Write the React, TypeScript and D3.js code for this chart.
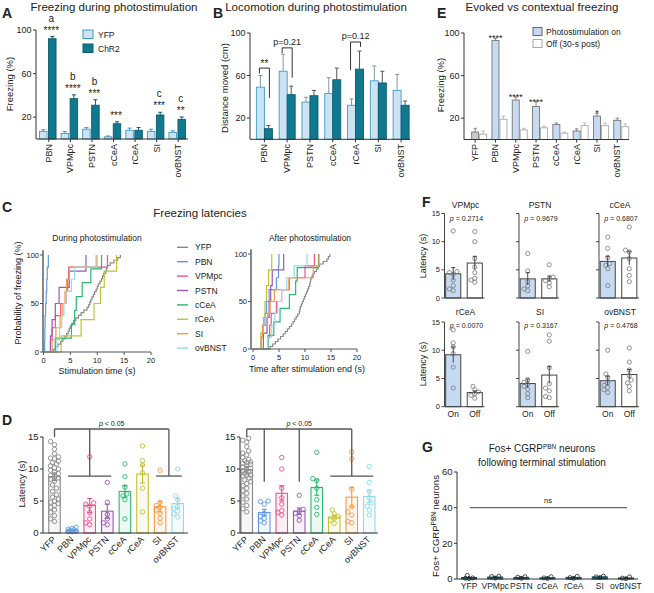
import React from 'react';
import * as d3 from 'd3';

const FONT = '"Liberation Sans", Arial, Helvetica, sans-serif';

// ---------- Panel A: freezing during photostimulation ----------
const regionsAB = ['PBN', 'VPMpc', 'PSTN', 'cCeA', 'rCeA', 'SI', 'ovBNST'];
const freezeYFP = [7, 5, 9, 2, 8, 7, 6];
const freezeYFPErr = [1.5, 1.8, 1.5, 0.8, 2, 2, 1.5];
const freezeChR2 = [92, 37, 31, 14, 8, 22, 18];
const freezeChR2Err = [2, 3.5, 5, 1.8, 2.5, 2.5, 2.2];
const freezeLetters = ['a', 'b', 'b', '', '', 'c', 'c'];
const freezeStars = ['****', '****', '***', '***', '', '***', '**'];
const pctTicks = [20, 60, 100];

// ---------- Panel B: locomotion ----------
const locoYFP = [49, 64, 35, 43, 32, 55, 46];
const locoYFPErr = [11, 16, 4.5, 15, 6, 14, 15];
const locoChR2 = [10, 42, 41, 56, 66, 53, 32];
const locoChR2Err = [3, 8, 5, 11, 17, 11, 4];
const locoBracketGroup = [0, 1, 4];
const locoBracketLabel = ['**', 'p=0.21', 'p=0.12'];
const locoBracketLevel = [67, 86, 91.5];
const locoBracketLeft = [62, 81, 65];
const locoBracketRight = [39, 58, 87];

// ---------- Panel E: evoked vs contextual ----------
const regions8 = ['YFP', 'PBN', 'VPMpc', 'PSTN', 'cCeA', 'rCeA', 'SI', 'ovBNST'];
const evokedOn = [7, 93, 37, 31, 14, 8, 22, 18];
const evokedOnErr = [3.5, 2, 3, 4.5, 1.5, 2, 2.5, 2];
const evokedOff = [5, 19, 9, 11, 6, 13, 13, 12];
const evokedOffErr = [3, 3, 1.5, 1.5, 1, 2.5, 2.5, 2.5];
const evokedStars = ['', '****', '****', '****', '', '', '*', ''];

// ---------- Latencies (panels C, D, F) ----------
const regionColors = ['#8a8a8a', '#5f9be0', '#f2508b', '#9b59b6', '#2db872', '#c3c236', '#f89a3c', '#92dbe9'];

const durYFP = [14.3, 13.8, 13.1, 12.4, 11.9, 11.7, 11.6, 11.2, 11.0, 10.8, 10.5, 10.2, 10.0, 9.8, 9.5, 9.3, 9.0, 8.8, 8.6, 8.4, 8.1, 7.5, 7.0, 6.5, 6.0, 5.6, 5.3, 5.0, 4.8, 4.6, 4.3, 4.0, 3.6, 3.2, 2.7, 2.2, 1.8];
const durPBN = [0.9, 0.7, 0.6, 0.5, 0.4, 0.3, 0.25, 0.2];
const durVPMpc = [11.9, 4.7, 4.5, 4.2, 3.2, 2.2, 1.6, 1.3];
const durPSTN = [7.9, 4.8, 2.9, 2.2, 1.6, 1.3];
const durCCeA = [10.8, 8.8, 7.2, 6.1, 5.8, 5.2, 2.2];
const durRCeA = [13.6, 11.3, 10.6, 9.4, 7.0, 3.3];
const durSI = [9.8, 4.8, 4.3, 4.0, 3.6, 3.1, 2.3, 1.6];
const durOvBNST = [10.0, 5.8, 5.2, 4.2, 3.8, 3.4, 3.0, 2.5];
const durMean = [8.8, 0.4, 4.3, 3.4, 6.5, 9.2, 4.1, 4.6];
const durSem = [0.6, 0.1, 1.1, 1.1, 0.9, 1.4, 0.8, 0.8];

const aftYFP = [14.8, 14.5, 14.2, 13.5, 12.8, 12.5, 12.2, 11.8, 11.5, 11.3, 11.1, 11.0, 10.9, 10.7, 10.5, 10.3, 10.1, 9.9, 9.7, 9.5, 9.3, 9.1, 9.0, 8.9, 8.6, 8.3, 8.0, 7.7, 7.4, 7.0, 6.6, 6.2, 5.8, 5.3, 4.8, 4.3, 3.8, 3.3];
const aftPBN = [5.0, 4.9, 4.5, 3.1, 2.6, 2.3, 1.9, 1.6];
const aftVPMpc = [11.8, 10.0, 7.0, 5.5, 4.5, 3.5, 3.2, 2.8];
const aftPSTN = [5.9, 3.7, 3.4, 3.1, 2.7, 2.0];
const aftCCeA = [12.6, 8.5, 8.2, 7.0, 5.2, 4.0, 2.9];
const aftRCeA = [3.6, 3.0, 2.6, 2.3, 2.0, 1.5];
const aftSI = [12.7, 11.6, 6.9, 4.1, 3.3, 2.8, 1.8, 1.6];
const aftOvBNST = [10.4, 7.9, 6.5, 5.5, 4.7, 4.2, 3.6, 2.8];
const aftMean = [9.9, 3.2, 6.2, 3.4, 7.1, 2.5, 5.6, 5.7];
const aftSem = [0.5, 0.5, 1.2, 0.5, 1.2, 0.3, 1.5, 0.9];

const latTicks = [0, 5, 10, 15];
const cdfXTicks = [0, 5, 10, 15, 20];
const cdfYTicks = [0, 50, 100];

// ---------- Panel F ----------
const pValuesF = ['0.2714', '0.9679', '0.6807', '0.0070', '0.3167', '0.4768'];

// ---------- Panel G ----------
const regionsG = ['YFP', 'VPMpc', 'PSTN', 'cCeA', 'rCeA', 'SI', 'ovBNST'];
const fosMean = [0.8, 1.1, 0.9, 0.7, 0.9, 1.2, 0.6];
const fosPts = [[2.0, 0.6, 0.2, 0.4], [1.6, 1.4, 0.5], [1.3, 1.0, 0.4], [1.3, 0.6, 0.3], [1.5, 0.8, 0.4], [1.6, 1.2, 0.8], [1.2, 0.5, 0.2]];
const fosTicks = [0, 20, 40, 60];

const YFP_FILL = '#cde3f4';
const YFP_STROKE = '#3e9dc4';
const CHR2_FILL = '#10788f';
const CHR2_STROKE = '#0b5c6e';
const ON_FILL = '#c6dbf1';
const AX = '#333';

function Txt({ x, y, children, size = 9, anchor = 'start', rotate = 0, weight = 'normal', fill = '#222', baseline = undefined as any, italic = false }: any) {
  return (
    <text
      x={0}
      y={0}
      transform={`translate(${x},${y})${rotate ? ` rotate(${rotate})` : ''}`}
      fontSize={size}
      textAnchor={anchor}
      fontWeight={weight}
      fill={fill}
      fontFamily={FONT}
      fontStyle={italic ? 'italic' : 'normal'}
      dominantBaseline={baseline}
    >
      {children}
    </text>
  );
}

function YAxis({ x, y, ticks, labels = true, size = 9, color = AX, top = null, width = 1 }: any) {
  const d = y.domain();
  const y1 = top == null ? y(d[1]) : y(top);
  return (
    <g>
      <line x1={x} x2={x} y1={y(d[0])} y2={y1} stroke={color} strokeWidth={width} />
      {ticks.map((t: number) => (
        <g key={t}>
          <line x1={x - 3} x2={x} y1={y(t)} y2={y(t)} stroke={color} strokeWidth={width} />
          {labels && (
            <Txt x={x - 4.5} y={y(t) + size * 0.35} size={size} anchor="end">
              {t}
            </Txt>
          )}
        </g>
      ))}
    </g>
  );
}

function ErrBar({ x, y0, y1, w, color, sw = 1 }: any) {
  return (
    <g stroke={color} strokeWidth={sw}>
      <line x1={x} x2={x} y1={y0} y2={y1} />
      <line x1={x - w / 2} x2={x + w / 2} y1={y1} y2={y1} />
    </g>
  );
}

function swarm(vals: number[], y: (v: number) => number, r: number, half: number) {
  const placed: { x: number; y: number }[] = [];
  const out: { dx: number; y: number }[] = new Array(vals.length);
  const order = vals.map((_, i) => i).sort((a, b) => vals[a] - vals[b]);
  const cands: number[] = [0];
  const stp = r * 0.9;
  for (let k = 1; k * stp <= half + 0.01; k++) cands.push(-k * stp, k * stp);
  for (const i of order) {
    const py = y(vals[i]);
    let best = 0;
    let bestD = -1;
    for (const dx of cands) {
      let minD = Infinity;
      for (const p of placed) {
        const d = Math.hypot(p.x - dx, p.y - py);
        if (d < minD) minD = d;
      }
      if (minD >= 2 * r * 0.9) {
        best = dx;
        bestD = Infinity;
        break;
      }
      if (minD > bestD) {
        bestD = minD;
        best = dx;
      }
    }
    placed.push({ x: best, y: py });
    out[i] = { dx: best, y: py };
  }
  return out;
}

function PanelA() {
  const x = d3.scaleBand(regionsAB, [37, 188]);
  const y = d3.scaleLinear([0, 100], [139, 30]);
  const bw = 7.5;
  const gap = 1.5;
  return (
    <g>
      <Txt x={2} y={18} size={14} weight="bold">A</Txt>
      <Txt x={114} y={10.5} size={11.5} anchor="middle">Freezing during photostimulation</Txt>
      <Txt x={9} y={84} size={9.5} anchor="middle" rotate={-90} baseline="central">Freezing (%)</Txt>
      {regionsAB.map((r, i) => {
        const c = (x(r) as number) + x.bandwidth() / 2;
        const ya = y(freezeYFP[i]);
        const yb = y(freezeChR2[i]);
        const topB = y(freezeChR2[i] + freezeChR2Err[i]);
        const cb = c + gap / 2 + bw / 2;
        return (
          <g key={r}>
            <ErrBar x={c - gap / 2 - bw / 2} y0={ya} y1={y(freezeYFP[i] + freezeYFPErr[i])} w={4} color={YFP_STROKE} />
            <rect x={c - gap / 2 - bw} y={ya} width={bw} height={y(0) - ya} fill={YFP_FILL} stroke={YFP_STROKE} strokeWidth={0.9} />
            <ErrBar x={cb} y0={yb} y1={topB} w={4} color={CHR2_STROKE} />
            <rect x={c + gap / 2} y={yb} width={bw} height={y(0) - yb} fill={CHR2_FILL} stroke={CHR2_STROKE} strokeWidth={0.9} />
            {freezeStars[i] && (
              <Txt x={cb - 1} y={topB - 3} size={10} anchor="middle">{freezeStars[i]}</Txt>
            )}
            {freezeLetters[i] && (
              <Txt x={cb - 1} y={topB - 15} size={10} anchor="middle">{freezeLetters[i]}</Txt>
            )}
            <line x1={c + 1} x2={c + 1} y1={139} y2={142} stroke={AX} />
            <Txt x={c + 1} y={144} size={9} anchor="end" rotate={-90} baseline="central">{r}</Txt>
          </g>
        );
      })}
      <YAxis x={36} y={y} ticks={pctTicks} size={9} />
      <line x1={36} x2={188} y1={139} y2={139} stroke={AX} />
      <rect x={83} y={30} width={10} height={8.5} fill={YFP_FILL} stroke={YFP_STROKE} />
      <Txt x={98} y={37.5} size={8.5}>YFP</Txt>
      <rect x={83} y={44} width={10} height={8.5} fill={CHR2_FILL} stroke={CHR2_STROKE} />
      <Txt x={98} y={51.5} size={8.5}>ChR2</Txt>
    </g>
  );
}

function PanelB() {
  const x = d3.scaleBand(regionsAB, [253, 412.5]);
  const y = d3.scaleLinear([0, 100], [139.3, 33]);
  const bw = 8;
  return (
    <g>
      <Txt x={213} y={18} size={14} weight="bold">B</Txt>
      <Txt x={316} y={10.5} size={11.5} anchor="middle">Locomotion during photostimulation</Txt>
      <Txt x={224} y={88} size={9.5} anchor="middle" rotate={-90} baseline="central">Distance moved (cm)</Txt>
      {regionsAB.map((r, i) => {
        const c = (x(r) as number) + x.bandwidth() / 2;
        const ya = y(locoYFP[i]);
        const yb = y(locoChR2[i]);
        return (
          <g key={r}>
            <ErrBar x={c - bw / 2} y0={ya} y1={y(locoYFP[i] + locoYFPErr[i])} w={4} color="#7f98a8" />
            <rect x={c - bw} y={ya} width={bw} height={y(0) - ya} fill={YFP_FILL} stroke={YFP_STROKE} strokeWidth={0.9} />
            <ErrBar x={c + bw / 2} y0={yb} y1={y(locoChR2[i] + locoChR2Err[i])} w={4} color="#555" />
            <rect x={c} y={yb} width={bw} height={y(0) - yb} fill={CHR2_FILL} stroke={CHR2_STROKE} strokeWidth={0.9} />
            <line x1={c} x2={c} y1={139.3} y2={142.3} stroke={AX} />
            <Txt x={c} y={144} size={9} anchor="end" rotate={-90} baseline="central">{r}</Txt>
          </g>
        );
      })}
      {locoBracketGroup.map((g, k) => {
        const c = (x(regionsAB[g]) as number) + x.bandwidth() / 2;
        const xl = c - bw / 2 - 1;
        const xr = c + bw / 2 + 1;
        const yl = y(locoBracketLevel[k]);
        return (
          <g key={k}>
            <path d={`M${xl},${y(locoBracketLeft[k])}V${yl}H${xr}V${y(locoBracketRight[k])}`} fill="none" stroke="#333" strokeWidth={1} />
            <Txt x={(xl + xr) / 2} y={yl - (locoBracketLabel[k] === '**' ? 1 : 3)} size={locoBracketLabel[k] === '**' ? 10 : 9} anchor="middle">
              {locoBracketLabel[k]}
            </Txt>
          </g>
        );
      })}
      <YAxis x={250} y={y} ticks={pctTicks} size={9} />
      <line x1={250} x2={410} y1={139.3} y2={139.3} stroke={AX} />
    </g>
  );
}

function PanelE() {
  const x = d3.scaleBand(regions8, [469, 631.4]);
  const y = d3.scaleLinear([0, 100], [139.5, 33]);
  const bw = 7;
  return (
    <g>
      <Txt x={437} y={18} size={14} weight="bold">E</Txt>
      <Txt x={542} y={10.5} size={11.5} anchor="middle">Evoked vs contextual freezing</Txt>
      <Txt x={440} y={85} size={9.5} anchor="middle" rotate={-90} baseline="central">Freezing (%)</Txt>
      {regions8.map((r, i) => {
        const c = (x(r) as number) + x.bandwidth() / 2;
        const ya = y(evokedOn[i]);
        const yb = y(evokedOff[i]);
        const topA = y(evokedOn[i] + evokedOnErr[i]);
        const co = c - 0.5 - bw / 2;
        return (
          <g key={r}>
            <ErrBar x={co} y0={ya} y1={topA} w={3.5} color="#888" />
            <rect x={c - 0.5 - bw} y={ya} width={bw} height={y(0) - ya} fill={i === 0 ? '#c9c9c9' : ON_FILL} stroke="#777" strokeWidth={0.9} />
            <ErrBar x={c + 0.5 + bw / 2} y0={yb} y1={y(evokedOff[i] + evokedOffErr[i])} w={3.5} color="#bbb" />
            <rect x={c + 0.5} y={yb} width={bw} height={y(0) - yb} fill="#fff" stroke="#aaa" strokeWidth={0.9} />
            {evokedStars[i] && (
              <Txt x={co} y={topA + 3} size={9} anchor="middle">{evokedStars[i]}</Txt>
            )}
            <line x1={co} x2={co} y1={139.5} y2={142.5} stroke={AX} />
            <Txt x={co} y={144} size={9} anchor="end" rotate={-90} baseline="central">{r}</Txt>
          </g>
        );
      })}
      <YAxis x={464} y={y} ticks={pctTicks} size={9} />
      <line x1={464} x2={629} y1={139.5} y2={139.5} stroke={AX} />
      <rect x={533} y={27.5} width={9} height={8} fill={ON_FILL} stroke="#666" />
      <Txt x={546} y={35} size={8.5}>Photostimulation on</Txt>
      <rect x={533} y={39.5} width={9} height={8} fill="#fff" stroke="#aaa" />
      <Txt x={546} y={47} size={8.5}>Off (30-s post)</Txt>
    </g>
  );
}

function ecdfPath(vals: number[], x: any, y: any) {
  const s = [...vals].sort((a, b) => a - b);
  const n = s.length;
  const pts: [number, number][] = [[0, 0]];
  s.forEach((v, i) => {
    pts.push([v, (i / n) * 100]);
    pts.push([v, ((i + 1) / n) * 100]);
  });
  return d3.line().x((d) => x(d[0])).y((d) => y(d[1]))(pts) as string;
}

function CdfPlot({ x, y, axisX, sets }: any) {
  const x1 = x.range()[1];
  return (
    <g>
      {sets.map((vals: number[], i: number) => (
        <path key={i} d={ecdfPath(vals, x, y)} fill="none" stroke={regionColors[i]} strokeWidth={1.2} />
      ))}
      <line x1={axisX} x2={axisX} y1={y(0)} y2={y(105)} stroke="#555" strokeWidth={1.4} />
      {cdfYTicks.map((t) => (
        <g key={t}>
          <line x1={axisX - 3} x2={axisX} y1={y(t)} y2={y(t)} stroke="#555" />
          <Txt x={axisX - 4} y={y(t) + 2.5} size={7.5} anchor="end">{t}</Txt>
        </g>
      ))}
      <line x1={axisX} x2={x1} y1={y(0)} y2={y(0)} stroke="#555" strokeWidth={1.2} />
      {cdfXTicks.map((t) => (
        <g key={t}>
          <line x1={x(t)} x2={x(t)} y1={y(0)} y2={y(0) + 3} stroke="#555" />
          <Txt x={x(t)} y={y(0) + 11} size={7.5} anchor="middle">{t}</Txt>
        </g>
      ))}
    </g>
  );
}

function PanelC() {
  const durSets = [durYFP, durPBN, durVPMpc, durPSTN, durCCeA, durRCeA, durSI, durOvBNST];
  const aftSets = [aftYFP, aftPBN, aftVPMpc, aftPSTN, aftCCeA, aftRCeA, aftSI, aftOvBNST];
  const xl = d3.scaleLinear([0, 20], [43.5, 151]);
  const yl = d3.scaleLinear([0, 100], [352, 255]);
  const xr = d3.scaleLinear([0, 20], [253, 357]);
  const yr = d3.scaleLinear([0, 100], [349, 254]);
  return (
    <g>
      <Txt x={2} y={212} size={14} weight="bold">C</Txt>
      <Txt x={200} y={217} size={11.5} anchor="middle">Freezing latencies</Txt>
      <Txt x={97} y={241} size={8.5} anchor="middle">During photostimulation</Txt>
      <Txt x={310} y={241} size={8.5} anchor="middle">After photostimulation</Txt>
      <Txt x={18} y={293} size={9} anchor="middle" rotate={-90} baseline="central">Probability of freezing (%)</Txt>
      <CdfPlot x={xl} y={yl} axisX={43} sets={durSets} />
      <CdfPlot x={xr} y={yr} axisX={251} sets={aftSets} />
      <Txt x={97} y={374} size={9} anchor="middle">Stimulation time (s)</Txt>
      <Txt x={307} y={372} size={9} anchor="middle">Time after stimulation end (s)</Txt>
      {regions8.map((r, i) => (
        <g key={r}>
          <line x1={177} x2={188} y1={247.3 + i * 14.4} y2={247.3 + i * 14.4} stroke={regionColors[i]} strokeWidth={1.4} />
          <Txt x={195} y={250.3 + i * 14.4} size={8.5}>{r}</Txt>
        </g>
      ))}
    </g>
  );
}

function LatencyPlot({ range, axis0, axis1, sets, means, sems, topTo, drops }: any) {
  const x = d3.scaleBand(regions8, range);
  const y = d3.scaleLinear([0, 15], [533, 437]);
  const step = x.step();
  const cx = (i: number) => range[0] + step * (i + 0.5);
  const bw = 11.5;
  return (
    <g>
      {regions8.map((r, i) => {
        const c = cx(i);
        const col = regionColors[i];
        const pos = swarm(sets[i], y, 2.2, 5.2);
        const ym = y(means[i]);
        return (
          <g key={r}>
            <rect x={c - bw / 2} y={ym} width={bw} height={y(0) - ym} fill={col} fillOpacity={0.08} stroke={col} strokeWidth={1.1} />
            {sets[i].map((v: number, k: number) => (
              <circle key={k} cx={c + pos[k].dx} cy={pos[k].y} r={2.2} fill="none" stroke={col} strokeWidth={0.9} />
            ))}
            <g stroke={col} strokeWidth={1.1}>
              <line x1={c} x2={c} y1={y(means[i] - sems[i])} y2={y(means[i] + sems[i])} />
              <line x1={c - 2.5} x2={c + 2.5} y1={y(means[i] + sems[i])} y2={y(means[i] + sems[i])} />
              <line x1={c - 2.5} x2={c + 2.5} y1={y(means[i] - sems[i])} y2={y(means[i] - sems[i])} />
            </g>
            <Txt x={c + 2} y={540} size={9} anchor="end" rotate={-45}>{r}</Txt>
          </g>
        );
      })}
      <YAxis x={axis0} y={y} ticks={latTicks} size={9.5} />
      <line x1={axis0} x2={axis1} y1={533} y2={533} stroke={AX} />
      <g stroke="#555" strokeWidth={1.3} fill="none">
        <line x1={cx(0)} x2={cx(topTo)} y1={y(16.25)} y2={y(16.25)} />
        {drops.map((d: any, k: number) => (
          <g key={k}>
            <line x1={cx(d.at)} x2={cx(d.at)} y1={y(16.25)} y2={y(d.to)} />
            {d.from != null && <line x1={cx(d.from) - 4} x2={cx(d.until) + 4} y1={y(d.to)} y2={y(d.to)} />}
          </g>
        ))}
      </g>
      <text x={(cx(0) + cx(topTo)) / 2} y={425.5} fontSize={7} textAnchor="middle" fontFamily={FONT} fill="#222">
        <tspan fontStyle="italic">p</tspan> &lt; 0.05
      </text>
    </g>
  );
}

function PanelD() {
  const durSets = [durYFP, durPBN, durVPMpc, durPSTN, durCCeA, durRCeA, durSI, durOvBNST];
  const aftSets = [aftYFP, aftPBN, aftVPMpc, aftPSTN, aftCCeA, aftRCeA, aftSI, aftOvBNST];
  return (
    <g>
      <Txt x={2} y={425} size={14} weight="bold">D</Txt>
      <Txt x={21} y={484} size={9.5} anchor="middle" rotate={-90} baseline="central">Latency (s)</Txt>
      <LatencyPlot
        range={[45.7, 186.5]}
        axis0={43}
        axis1={188}
        sets={durSets}
        means={durMean}
        sems={durSem}
        topTo={6.5}
        drops={[
          { at: 0, to: 15 },
          { at: 2, to: 8.9, from: 1, until: 3 },
          { at: 6.5, to: 8.9, from: 6, until: 7 },
        ]}
      />
      <LatencyPlot
        range={[238, 378]}
        axis0={240}
        axis1={378}
        sets={aftSets}
        means={aftMean}
        sems={aftSem}
        topTo={6}
        drops={[
          { at: 0, to: 15 },
          { at: 1, to: 8.0 },
          { at: 3, to: 8.0 },
          { at: 6, to: 8.9, from: 5, until: 7 },
        ]}
      />
    </g>
  );
}

function PanelF() {
  const durSets = [durVPMpc, durPSTN, durCCeA, durRCeA, durSI, durOvBNST];
  const aftSets = [aftVPMpc, aftPSTN, aftCCeA, aftRCeA, aftSI, aftOvBNST];
  const names = regions8.slice(2);
  const lefts = [444.5, 519, 599];
  const yTop = d3.scaleLinear([0, 15], [298, 213.5]);
  const yBot = d3.scaleLinear([0, 15], [406.7, 322]);
  return (
    <g>
      <Txt x={422} y={207} size={14} weight="bold">F</Txt>
      <Txt x={423} y={256} size={9} anchor="middle" rotate={-90} baseline="central">Latency (s)</Txt>
      <Txt x={423} y={364} size={9} anchor="middle" rotate={-90} baseline="central">Latency (s)</Txt>
      {names.map((name, i) => {
        const row = Math.floor(i / 3);
        const col = i % 3;
        const left = lefts[col];
        const y = row === 0 ? yTop : yBot;
        const xb = d3.scaleBand(['On', 'Off'], [left - 1, left + 40]).paddingInner(0.3).paddingOuter(0.1);
        const bw = xb.bandwidth();
        const groups = [
          { key: 'On', vals: durSets[i], mean: durMean[i + 2], sem: durSem[i + 2], fill: ON_FILL },
          { key: 'Off', vals: aftSets[i], mean: aftMean[i + 2], sem: aftSem[i + 2], fill: '#fff' },
        ];
        return (
          <g key={name}>
            <Txt x={left + 21} y={row === 0 ? 208 : 315} size={8.5} anchor="middle">{name}</Txt>
            <text x={left + 22} y={row === 0 ? 221 : 328} fontSize={7} textAnchor="middle" fontFamily={FONT} fill="#222">
              <tspan fontStyle="italic">p</tspan> = {pValuesF[i]}
            </text>
            {groups.map((g) => {
              const c = (xb(g.key) as number) + bw / 2;
              const pos = swarm(g.vals, y, 2.1, 5);
              return (
                <g key={g.key}>
                  <rect x={c - bw / 2} y={y(g.mean)} width={bw} height={y(0) - y(g.mean)} fill={g.fill} stroke="#444" strokeWidth={1} />
                  {g.vals.map((v, k) => (
                    <circle key={k} cx={c + pos[k].dx} cy={pos[k].y} r={2.1} fill="none" stroke="#777" strokeWidth={0.8} />
                  ))}
                  <g stroke="#444" strokeWidth={1}>
                    <line x1={c} x2={c} y1={y(g.mean - g.sem)} y2={y(g.mean + g.sem)} />
                    <line x1={c - 2} x2={c + 2} y1={y(g.mean + g.sem)} y2={y(g.mean + g.sem)} />
                  </g>
                  {row === 1 && (
                    <Txt x={c} y={417} size={8.5} anchor="middle">{g.key}</Txt>
                  )}
                </g>
              );
            })}
            <YAxis x={left} y={y} ticks={latTicks} labels={col === 0} size={7.5} color="#444" />
            <line x1={left} x2={left + 40} y1={y(0)} y2={y(0)} stroke="#444" />
          </g>
        );
      })}
    </g>
  );
}

function PanelG() {
  const x = d3.scaleBand(regionsG, [456, 639]);
  const y = d3.scaleLinear([0, 60], [579, 472]);
  const bw = 15;
  return (
    <g>
      <Txt x={422} y={452} size={14} weight="bold">G</Txt>
      <text x={542} y={452} fontSize={10} textAnchor="middle" fontFamily={FONT} fill="#222">
        Fos+ CGRP<tspan fontSize={6.5} dy={-3.5}>PBN</tspan>
        <tspan dy={3.5}> neurons</tspan>
      </text>
      <Txt x={542} y={466} size={10} anchor="middle">following terminal stimulation</Txt>
      <text transform="translate(439,526) rotate(-90)" fontSize={9.5} textAnchor="middle" fontFamily={FONT} fill="#222">
        Fos+ CGRP<tspan fontSize={6.5} dy={-3.5}>PBN</tspan>
        <tspan dy={3.5}> neurons</tspan>
      </text>
      {regionsG.map((r, i) => {
        const c = (x(r) as number) + x.bandwidth() / 2;
        const pos = swarm(fosPts[i], y, 2, 7);
        return (
          <g key={r}>
            <rect x={c - bw / 2} y={y(fosMean[i])} width={bw} height={y(0) - y(fosMean[i])} fill={CHR2_FILL} stroke="#0b4f5e" />
            {fosPts[i].map((v, k) => (
              <circle key={k} cx={c + pos[k].dx} cy={pos[k].y} r={2} fill="none" stroke="#222" strokeWidth={0.8} />
            ))}
            <line x1={c} x2={c} y1={y(0)} y2={y(fosMean[i] + 0.6)} stroke="#111" />
            <Txt x={c} y={589} size={8.5} anchor="middle">{r}</Txt>
          </g>
        );
      })}
      <YAxis x={457} y={y} ticks={fosTicks} size={9.5} />
      <line x1={457} x2={638} y1={579} y2={579} stroke={AX} />
      <line x1={470} x2={627} y1={y(40)} y2={y(40)} stroke="#666" strokeWidth={1.2} />
      <Txt x={548} y={503} size={7.5} anchor="middle">ns</Txt>
    </g>
  );
}

export default function App() {
  return (
    <svg width={654} height={593} style={{ position: 'absolute', left: 0, top: 0, background: '#fff' }} fontFamily={FONT}>
      <rect width={654} height={593} fill="#fff" />
      <PanelA />
      <PanelB />
      <PanelE />
      <PanelC />
      <PanelD />
      <PanelF />
      <PanelG />
    </svg>
  );
}
